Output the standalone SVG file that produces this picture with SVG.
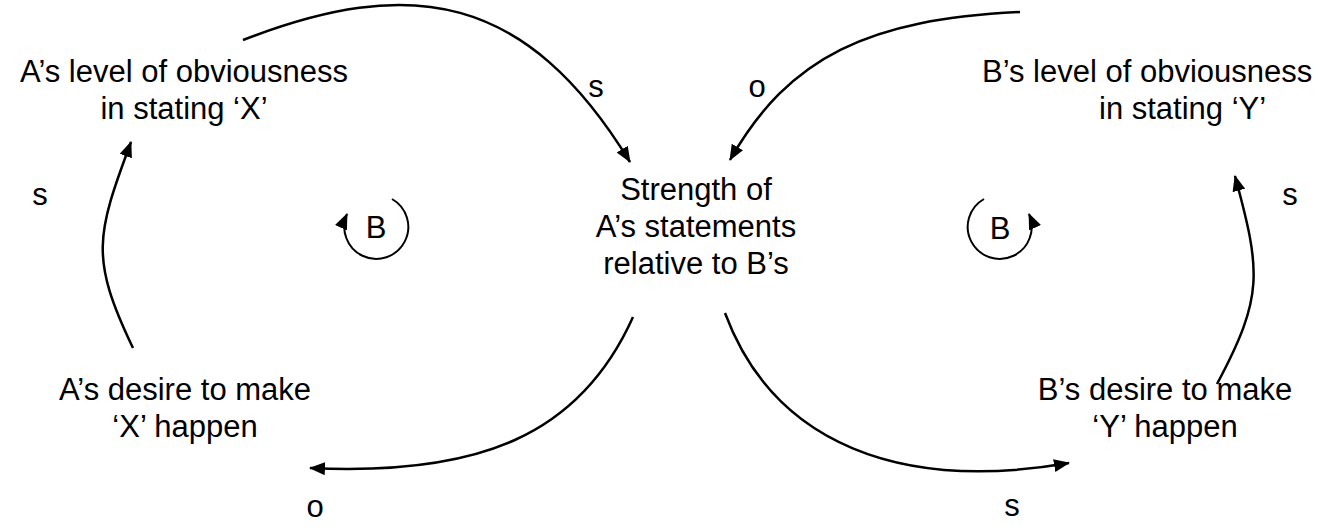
<svg xmlns="http://www.w3.org/2000/svg" width="1320" height="531" viewBox="0 0 1320 531">
<style>
text { font-family: "Liberation Sans", Arial, sans-serif; font-size: 31px; fill: #000; }
.c { text-anchor: middle; }
.link { fill: none; stroke: #000; stroke-width: 2.5; marker-end: url(#ah); }
.loop { fill: none; stroke: #000; stroke-width: 2; marker-end: url(#ah); }
</style>
<defs>
<marker id="ah" viewBox="0 0 16 13" refX="15" refY="6.5" markerWidth="16" markerHeight="13" markerUnits="userSpaceOnUse" orient="auto">
<path d="M0,0 L16,6.5 L0,13 z" fill="#000"/>
</marker>
</defs>
<rect width="1320" height="531" fill="#fff"/>
<g id="connectors">
<path class="link" d="M243,40 C410,-25 526,-8 630,162"/>
<path class="link" d="M1020,12 C870,19 789,56 730,160"/>
<path class="link" d="M133,348 C90,258 96,236 131,142"/>
<path class="link" d="M633,317 C580,435 480,476 310,468"/>
<path class="link" d="M725,313 C774,445 902,492 1069,463"/>
<path class="link" d="M1217,384 C1264,296 1261,272 1235,176"/>
<text x="596" y="97" class="c">s</text>
<text x="757" y="97" class="c">o</text>
<text x="40" y="205" class="c">s</text>
<text x="1290" y="205" class="c">s</text>
<text x="315" y="517" class="c">o</text>
<text x="1012" y="516" class="c">s</text>
</g>
<g id="loopA">
<path class="loop" d="M392,199 A32,32 0 1 1 347,214"/>
<text x="376" y="238" class="c">B</text>
</g>
<g id="loopB">
<path class="loop" d="M984,199 A32,32 0 1 0 1029,214"/>
<text x="1000" y="239" class="c">B</text>
</g>
<g id="nodeA_obv">
<text x="184" y="82" class="c">A’s level of obviousness</text>
<text x="184" y="119" class="c">in stating ‘X’</text>
</g>
<g id="nodeB_obv">
<text x="982" y="82">B’s level of obviousness</text>
<text x="1099" y="119">in stating ‘Y’</text>
</g>
<g id="nodeStrength">
<text x="696" y="200" class="c">Strength of</text>
<text x="696" y="237" class="c">A’s statements</text>
<text x="696" y="274" class="c">relative to B’s</text>
</g>
<g id="nodeA_desire">
<text x="185" y="400" class="c">A’s desire to make</text>
<text x="185" y="437" class="c">‘X’ happen</text>
</g>
<g id="nodeB_desire">
<text x="1165" y="400" class="c">B’s desire to make</text>
<text x="1165" y="437" class="c">‘Y’ happen</text>
</g>
</svg>
